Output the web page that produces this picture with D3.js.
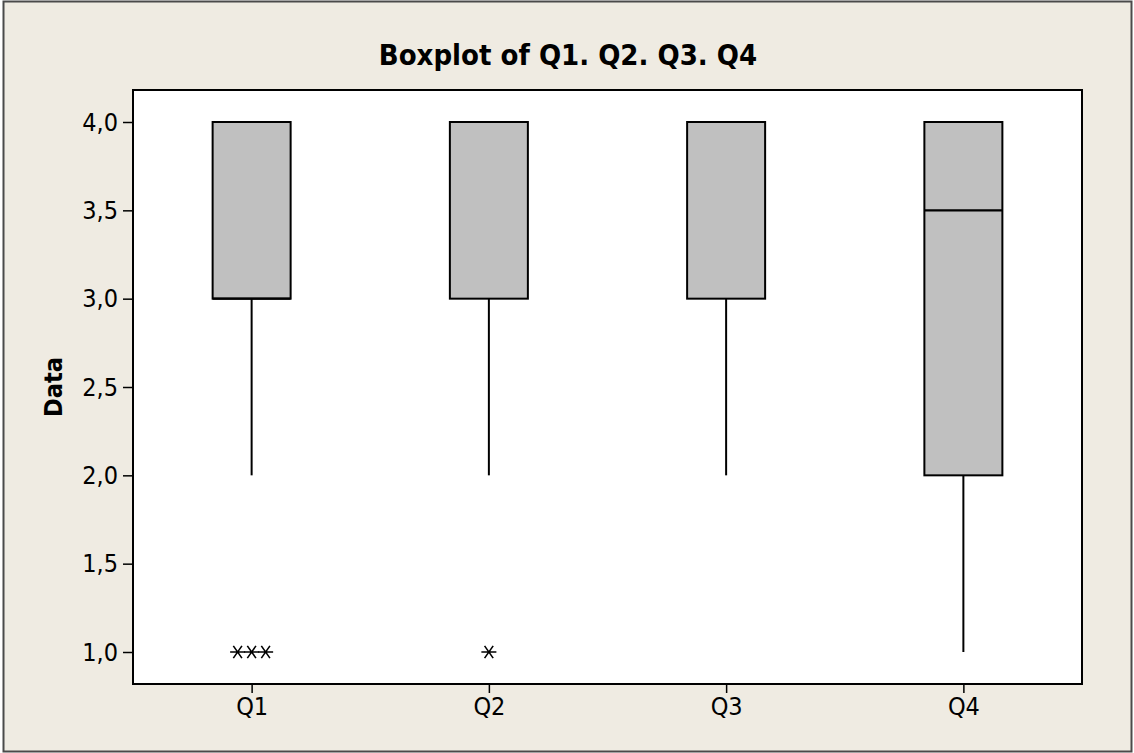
<!DOCTYPE html>
<html>
<head>
<meta charset="utf-8">
<script src="https://cdn.jsdelivr.net/npm/d3@7"></script>
<style>
  html, body { margin: 0; padding: 0; background: #ffffff; }
  svg { display: block; }
  text { font-family: "DejaVu Sans Condensed", "DejaVu Sans", Tahoma, sans-serif; fill: #000; }
</style>
</head>
<body>
<svg id="chart" width="1134" height="753"></svg>
<script>
// Boxplot summary for each question
const categories = ["Q1", "Q2", "Q3", "Q4"];
const whiskerLow  = [2.0, 2.0, 2.0, 1.0];
const boxLow      = [3.0, 3.0, 3.0, 2.0];
const medians     = [3.0, 4.0, 4.0, 3.5];
const boxHigh     = [4.0, 4.0, 4.0, 4.0];
const whiskerHigh = [4.0, 4.0, 4.0, 4.0];
const outliers    = [[1.0, 1.0, 1.0], [1.0], [], []];
const yTicks = [1.0, 1.5, 2.0, 2.5, 3.0, 3.5, 4.0];
const title = "Boxplot of Q1. Q2. Q3. Q4";
const yTitle = "Data";

const W = 1134, H = 753;
const plot = { left: 133, top: 90, right: 1082, bottom: 684 };
const FONT = '"DejaVu Sans Condensed", "DejaVu Sans", sans-serif';

const svg = d3.select("#chart");

// figure background and frame
svg.append("rect")
  .attr("x", 3.5).attr("y", 1.5).attr("width", W - 6).attr("height", H - 3)
  .attr("fill", "#efebe2").attr("stroke", "#4a4a4a").attr("stroke-width", 2);

// data region
svg.append("rect")
  .attr("x", plot.left).attr("y", plot.top)
  .attr("width", plot.right - plot.left).attr("height", plot.bottom - plot.top)
  .attr("fill", "#ffffff");

const x = d3.scalePoint().domain(categories).range([plot.left, plot.right]).padding(0.5);
const y = d3.scaleLinear().domain([1.0, 4.0]).range([652, 122]);

const fmt = v => d3.format(".1f")(v).replace(".", ",");

// y axis
const yAxis = svg.append("g")
  .attr("transform", `translate(${plot.left},0)`)
  .call(d3.axisLeft(y).tickValues(yTicks).tickFormat(fmt).tickSize(10).tickPadding(5));
yAxis.select(".domain").remove();
yAxis.selectAll(".tick line").attr("stroke", "#000").attr("stroke-width", 1.5);
yAxis.selectAll(".tick text")
  .style("font-family", FONT).style("font-size", "25px").attr("fill", "#000");

// x axis
const xAxis = svg.append("g")
  .attr("transform", `translate(0,${plot.bottom})`)
  .call(d3.axisBottom(x).tickSize(9).tickPadding(4));
xAxis.select(".domain").remove();
xAxis.selectAll(".tick line").attr("stroke", "#000").attr("stroke-width", 1.5);
xAxis.selectAll(".tick text")
  .style("font-family", FONT).style("font-size", "25px").attr("fill", "#000");

// data region border drawn above the axes
svg.append("rect")
  .attr("x", plot.left).attr("y", plot.top)
  .attr("width", plot.right - plot.left).attr("height", plot.bottom - plot.top)
  .attr("fill", "none").attr("stroke", "#000").attr("stroke-width", 2);

const boxW = 78;
const rows = categories.map((c, i) => ({
  c, wl: whiskerLow[i], bl: boxLow[i], med: medians[i], bh: boxHigh[i], wh: whiskerHigh[i], out: outliers[i]
}));

const g = svg.append("g");

// whiskers
g.selectAll("line.wlow").data(rows).join("line")
  .attr("x1", d => x(d.c)).attr("x2", d => x(d.c))
  .attr("y1", d => y(d.bl)).attr("y2", d => y(d.wl))
  .attr("stroke", "#000").attr("stroke-width", 2);
g.selectAll("line.whigh").data(rows.filter(d => d.wh > d.bh)).join("line")
  .attr("x1", d => x(d.c)).attr("x2", d => x(d.c))
  .attr("y1", d => y(d.bh)).attr("y2", d => y(d.wh))
  .attr("stroke", "#000").attr("stroke-width", 2);

// interquartile boxes
g.selectAll("rect.box").data(rows).join("rect")
  .attr("x", d => x(d.c) - boxW / 2).attr("width", boxW)
  .attr("y", d => y(d.bh)).attr("height", d => y(d.bl) - y(d.bh))
  .attr("fill", "#c0c0c0").attr("stroke", "#000").attr("stroke-width", 2);

// medians
g.selectAll("line.med").data(rows).join("line")
  .attr("x1", d => x(d.c) - boxW / 2).attr("x2", d => x(d.c) + boxW / 2)
  .attr("y1", d => y(d.med)).attr("y2", d => y(d.med))
  .attr("stroke", "#000").attr("stroke-width", 2.2);

// six-armed star: a horizontal bar crossed by two slanted strokes
const starType = {
  draw(ctx, size) {
    const r = Math.sqrt(size) / 2;
    const a = Math.PI * 55 / 180;
    ctx.moveTo(-r, 0); ctx.lineTo(r, 0);
    ctx.moveTo(-r * Math.cos(a), -r * Math.sin(a)); ctx.lineTo(r * Math.cos(a), r * Math.sin(a));
    ctx.moveTo(-r * Math.cos(a), r * Math.sin(a)); ctx.lineTo(r * Math.cos(a), -r * Math.sin(a));
  }
};
const star = d3.symbol().type(starType).size(225);

// outliers: equal values are set side by side
const outPts = [];
rows.forEach(d => {
  const counts = d3.rollup(d.out, v => v.length, v => v);
  counts.forEach((n, val) => {
    for (let k = 0; k < n; k++) {
      outPts.push({ c: d.c, v: val, off: (k - (n - 1) / 2) * 14 });
    }
  });
});
g.selectAll("path.out").data(outPts).join("path")
  .attr("d", star)
  .attr("transform", d => `translate(${x(d.c) + d.off},${y(d.v)})`)
  .attr("fill", "none").attr("stroke", "#000").attr("stroke-width", 1.6);

// titles
svg.append("text")
  .attr("x", 568).attr("y", 65).attr("text-anchor", "middle")
  .style("font-family", FONT).style("font-size", "29px").style("font-weight", "bold")
  .text(title);

svg.append("text")
  .attr("transform", `translate(62,${(plot.top + plot.bottom) / 2}) rotate(-90)`)
  .attr("text-anchor", "middle")
  .style("font-family", FONT).style("font-size", "25px").style("font-weight", "bold")
  .text(yTitle);
</script>
</body>
</html>
